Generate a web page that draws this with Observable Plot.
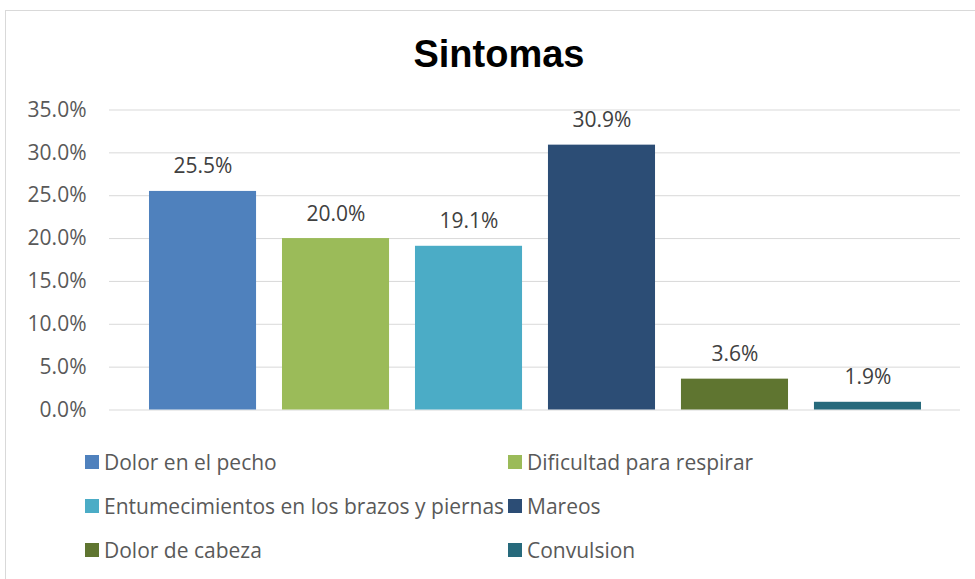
<!DOCTYPE html>
<html><head><meta charset="utf-8">
<script src="https://cdn.jsdelivr.net/npm/d3@7"></script>
<script src="https://cdn.jsdelivr.net/npm/@observablehq/plot@0.6"></script>
<style>
html,body{margin:0;padding:0;background:#fff;overflow:hidden;}
#wrap{position:relative;width:975px;height:579px;overflow:hidden;font-family:"Open Sans",sans-serif;color:#595959;}
#frame{position:absolute;left:5px;top:10px;width:1000px;height:600px;border:1px solid #d9d9d9;box-sizing:border-box;}
#title{position:absolute;left:0;top:35px;width:998px;text-align:center;font:bold 38px/38px "Liberation Sans",Arial,sans-serif;color:#000;}
#chart{position:absolute;left:0;top:90px;}
.item{position:absolute;height:20px;display:flex;align-items:center;font-size:21px;line-height:21px;white-space:nowrap;}
.sw{width:14px;height:14px;margin-right:5px;flex:none;}
</style></head>
<body><div id="wrap"><div id="frame"></div><div id="title">Sintomas</div><div id="chart"></div><div id="legend"></div></div>
<script>
const categories = ["Dolor en el pecho","Dificultad para respirar","Entumecimientos en los brazos y piernas","Mareos","Dolor de cabeza","Convulsion"];
// bar heights as drawn in the picture (percent)
const barValues = [25.5, 20.0, 19.1, 30.9, 3.6, 0.9];
// data labels as printed in the picture
const valueLabels = ["25.5%","20.0%","19.1%","30.9%","3.6%","1.9%"];
const colors = ["#4F81BD","#9BBB59","#4BACC6","#2C4D75","#5F7530","#276A7C"];
const yTicks = [0,5,10,15,20,25,30,35];

const data = categories.map((c,i)=>({name:c, value:barValues[i], label:valueLabels[i]}));

const chart = Plot.plot({
  width: 975,
  height: 340,
  marginTop: 19.5,
  marginBottom: 20.5,
  marginLeft: 109,
  marginRight: 15,
  style: {fontFamily: '"Open Sans", sans-serif', fontSize: "21px", color: "#595959", background: "transparent"},
  x: {domain: categories, range: [136, 934], paddingInner: 0.195, paddingOuter: 0.0977, round: false, axis: null},
  y: {domain: [0, 35], ticks: yTicks},
  color: {domain: categories, range: colors},
  marks: [
    Plot.gridY(yTicks, {stroke: "#d9d9d9", strokeOpacity: 1, strokeWidth: 1}),
    Plot.axisY(yTicks, {tickSize: 0, tickPadding: 23, tickFormat: d => d.toFixed(1) + "%", fontSize: 21, fill: "#595959", label: null}),
    Plot.barY(data, {x: "name", y: "value", fill: "name"}),
    Plot.text(data, {x: "name", y: "value", text: "label", lineAnchor: "bottom", dy: -18, fontSize: 21, fill: "#404040"})
  ]
});
document.getElementById("chart").appendChild(chart);

const legend = document.getElementById("legend");
const colX = [85, 508];
const rowY = [452, 496, 540];
categories.forEach((c,i)=>{
  const d = document.createElement("div");
  d.className = "item";
  d.style.left = colX[i%2] + "px";
  d.style.top = rowY[Math.floor(i/2)] + "px";
  d.innerHTML = `<span class="sw" style="background:${colors[i]}"></span><span>${c}</span>`;
  legend.appendChild(d);
});
</script></body></html>
